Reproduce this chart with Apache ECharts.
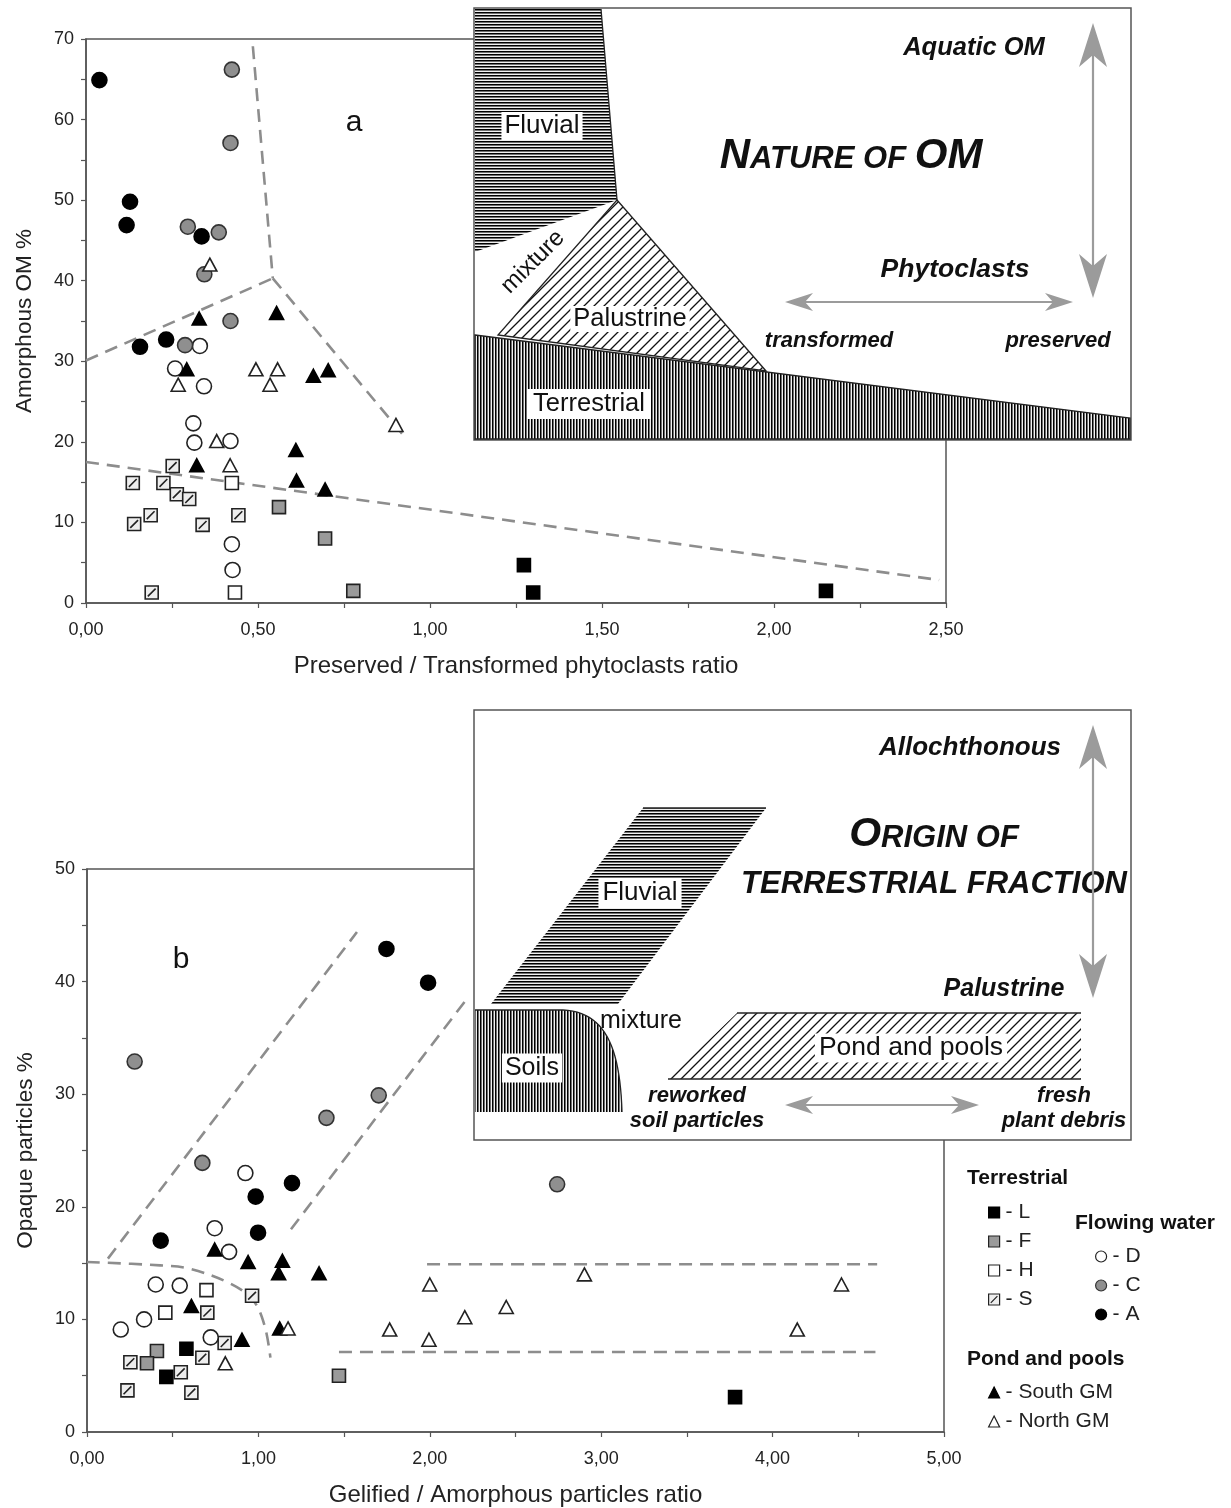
<!DOCTYPE html>
<html><head><meta charset="utf-8">
<script src="https://cdn.jsdelivr.net/npm/echarts/dist/echarts.min.js"></script>
<style>html,body{margin:0;padding:0;background:#fff}#c{width:1231px;height:1508px}</style>
</head><body><div id="c"></div>
<script>
const FONT = '"Liberation Sans", Arial, sans-serif';

// ---------- Panel a data (x: Preserved/Transformed ratio, y: Amorphous OM %) ----------
const aXRange = [0, 2.5], aYRange = [0, 70];
const aL = [[1.273,4.7],[1.30,1.3],[2.151,1.5]];
const aF = [[0.561,11.9],[0.695,8.0],[0.777,1.5]];
const aH = [[0.424,14.9],[0.433,1.3]];
const aS = [[0.252,17.0],[0.136,14.9],[0.225,14.9],[0.264,13.5],[0.300,12.9],[0.188,10.9],[0.140,9.8],[0.339,9.7],[0.443,10.9],[0.191,1.3]];
const aD = [[0.331,31.9],[0.259,29.1],[0.343,26.9],[0.312,22.3],[0.315,19.9],[0.420,20.1],[0.424,7.3],[0.426,4.1]];
const aC = [[0.424,66.2],[0.420,57.1],[0.296,46.7],[0.386,46.0],[0.344,40.8],[0.420,35.0],[0.288,32.0]];
const aA = [[0.039,64.9],[0.128,49.8],[0.118,46.9],[0.336,45.5],[0.233,32.7],[0.157,31.8]];
const aSouth = [[0.329,35.3],[0.554,36.0],[0.293,29.0],[0.661,28.2],[0.704,28.9],[0.610,19.0],[0.322,17.1],[0.612,15.2],[0.695,14.1]];
const aNorth = [[0.360,42.0],[0.268,27.1],[0.494,29.0],[0.557,29.0],[0.535,27.1],[0.901,22.1],[0.380,20.1],[0.419,17.1]];
// boundary lines (data coords)
const aBound1 = [[0.485,69.1],[0.543,40.3]];
const aBound2 = [[0,30.1],[0.543,40.3]];
const aBound3 = [[0.543,40.3],[0.927,20.6]];
const aBound4 = [[0,17.5],[2.48,2.85]];

// ---------- Panel b data (x: Gelified/Amorphous ratio, y: Opaque particles %) ----------
const bXRange = [0, 5], bYRange = [0, 50];
const bL = [[0.580,7.4],[0.463,4.9],[3.781,3.1]];
const bF = [[0.408,7.2],[0.350,6.1],[1.470,5.0]];
const bH = [[0.697,12.6],[0.457,10.6]];
const bS = [[0.963,12.1],[0.702,10.6],[0.803,7.9],[0.673,6.6],[0.253,6.2],[0.547,5.3],[0.236,3.7],[0.609,3.5]];
const bD = [[0.924,23.0],[0.745,18.1],[0.829,16.0],[0.401,13.1],[0.541,13.0],[0.333,10.0],[0.197,9.1],[0.722,8.4]];
const bC = [[0.278,32.9],[1.397,27.9],[1.702,29.9],[0.673,23.9],[2.743,22.0]];
const bA = [[1.747,42.9],[1.990,39.9],[1.196,22.1],[0.984,20.9],[0.998,17.7],[0.430,17.0]];
const bSouth = [[0.745,16.2],[0.940,15.1],[1.140,15.2],[1.118,14.1],[1.354,14.1],[0.609,11.2],[1.124,9.2],[0.904,8.2]];
const bNorth = [[2.000,13.1],[2.204,10.2],[1.766,9.1],[1.173,9.2],[1.995,8.2],[0.807,6.1],[2.902,14.0],[2.446,11.1],[4.402,13.1],[4.144,9.1]];
const bBound1 = [[0.122,15.4],[1.575,44.4]];
const bBound2 = [[1.19,18.0],[2.213,38.4]];
const bBound3 = [[0,15.1],[0.426,14.8],[0.600,14.5],[0.833,13.2],[0.969,11.7],[1.037,9.4],[1.070,6.6]];
const bBound4 = [[1.984,14.9],[4.61,14.9]];
const bBound5 = [[1.47,7.1],[4.60,7.1]];

const groupNames = ['L','F','H','S','D','C','A','South GM','North GM'];
const legendTerrestrial = ['L','F','H','S'];
const legendFlowing = ['D','C','A'];
const legendPond = ['South GM','North GM'];

// ---------- styles ----------
const markStyle = {
  'L': {symbol:'rect', size:13, color:'#000', border:'#000'},
  'F': {symbol:'rect', size:13, color:'#9a9a9a', border:'#222'},
  'H': {symbol:'rect', size:13, color:'#fff', border:'#222'},
  'S': {symbol:'path://M0,0H10V10H0Z M2,8L8,2', size:13, color:'#eeeeee', border:'#222'},
  'D': {symbol:'circle', size:15, color:'#fff', border:'#222'},
  'C': {symbol:'circle', size:15, color:'#8f8f8f', border:'#333'},
  'A': {symbol:'circle', size:15, color:'#000', border:'#000'},
  'South GM': {symbol:'triangle', size:[14,13], color:'#000', border:'#000'},
  'North GM': {symbol:'triangle', size:[14,13], color:'#fff', border:'#222'}
};

function scatter(name, data, idx) {
  const s = markStyle[name];
  return {
    type:'scatter', name, data, xAxisIndex:idx, yAxisIndex:idx,
    symbol:s.symbol, symbolSize:s.size, z:5,
    itemStyle:{color:s.color, borderColor:s.border, borderWidth:1.6, opacity:1},
    emphasis:{disabled:true}
  };
}
function bound(data, idx, smooth) {
  return {
    type:'line', data, xAxisIndex:idx, yAxisIndex:idx, showSymbol:false, symbol:'none',
    smooth: smooth || false, silent:true, z:3,
    lineStyle:{color:'#8d8d8d', width:2.6, type:[13,8]}
  };
}

const dataA = {'L':aL,'F':aF,'H':aH,'S':aS,'D':aD,'C':aC,'A':aA,'South GM':aSouth,'North GM':aNorth};
const dataB = {'L':bL,'F':bF,'H':bH,'S':bS,'D':bD,'C':bC,'A':bA,'South GM':bSouth,'North GM':bNorth};

const series = [];
series.push(bound(aBound1,0), bound(aBound2,0), bound(aBound3,0), bound(aBound4,0));
series.push(bound(bBound1,1), bound(bBound2,1), bound(bBound3,1,0.35), bound(bBound4,1), bound(bBound5,1));
groupNames.forEach(n => series.push(scatter(n, dataA[n], 0)));
groupNames.forEach(n => series.push(scatter(n, dataB[n], 1)));

function fmtX(step){ return v => (Math.abs(v/step - Math.round(v/step)) < 1e-6) ? v.toFixed(2).replace('.',',') : ''; }
function fmtY(step){ return v => (v % step === 0) ? String(v) : ''; }

function xAxis(idx, range, interval, labStep, name) {
  return {
    type:'value', gridIndex:idx, min:range[0], max:range[1], interval,
    name, nameLocation:'middle', nameGap:51,
    nameTextStyle:{fontFamily:FONT, fontSize:24, color:'#222'},
    axisLine:{show:true, lineStyle:{color:'#555', width:1.5}},
    axisTick:{show:true, length:5, lineStyle:{color:'#555', width:1.2}},
    axisLabel:{show:true, margin:18, fontFamily:FONT, fontSize:18, color:'#222', formatter:fmtX(labStep), hideOverlap:false},
    splitLine:{show:false}
  };
}
function yAxis(idx, range, name) {
  return {
    type:'value', gridIndex:idx, min:range[0], max:range[1], interval:5,
    name, nameLocation:'middle', nameGap:50, nameRotate:90,
    nameTextStyle:{fontFamily:FONT, fontSize:22.5, color:'#222'},
    axisLine:{show:true, lineStyle:{color:'#555', width:1.5}},
    axisTick:{show:true, length:5, lineStyle:{color:'#555', width:1.2}},
    axisLabel:{show:true, margin:12, fontFamily:FONT, fontSize:18, color:'#222', formatter:fmtY(10)},
    splitLine:{show:false}
  };
}

// ---------- hatch patterns ----------
function mkPat(kind) {
  const c = document.createElement('canvas');
  const ctx = c.getContext('2d');
  if (kind === 'h') {
    c.width = 6; c.height = 3;
    ctx.fillStyle = '#f0f0f0'; ctx.fillRect(0,0,6,3);
    ctx.fillStyle = '#000'; ctx.fillRect(0,0,6,1);
    ctx.fillStyle = '#6f6f6f'; ctx.fillRect(0,1,6,1);
  } else if (kind === 'v') {
    c.width = 3; c.height = 6;
    ctx.fillStyle = '#f0f0f0'; ctx.fillRect(0,0,3,6);
    ctx.fillStyle = '#000'; ctx.fillRect(0,0,1,6);
    ctx.fillStyle = '#6f6f6f'; ctx.fillRect(1,0,1,6);
  } else {
    const s = 10;
    c.width = s; c.height = s;
    ctx.fillStyle = '#fff'; ctx.fillRect(0,0,s,s);
    ctx.strokeStyle = '#111'; ctx.lineWidth = 1.3;
    ctx.beginPath();
    ctx.moveTo(0,s); ctx.lineTo(s,0);
    ctx.moveTo(-2,2); ctx.lineTo(2,-2);
    ctx.moveTo(s-2,s+2); ctx.lineTo(s+2,s-2);
    ctx.stroke();
  }
  return {image:c, repeat:'repeat'};
}
const patH = mkPat('h'), patV = mkPat('v'), patD = mkPat('d');

let Z = 50;
const G = [];
function add(el){ el.z = Z++; el.silent = true; G.push(el); }
function txt(x, y, text, font, opts) {
  opts = opts || {};
  const st = {text, fill:'#111', font, textAlign:opts.align||'center', textVerticalAlign:'middle',
              align:opts.align||'center', verticalAlign:'middle'};
  if (opts.bg) { st.backgroundColor = '#fff'; st.padding = opts.pad || [1,4]; }
  if (opts.rich) st.rich = opts.rich;
  const el = {type:'text', x, y, style:st};
  if (opts.rotation) el.rotation = opts.rotation;
  add(el);
}
function poly(points, fill, stroke, lw) {
  add({type:'polygon', shape:{points}, style:{fill:fill||'none', stroke:stroke||'none', lineWidth:lw||1}});
}
function pline(points, stroke, lw) {
  add({type:'polyline', shape:{points}, style:{fill:'none', stroke, lineWidth:lw}});
}
function line(x1,y1,x2,y2,stroke,lw){ add({type:'line', shape:{x1,y1,x2,y2}, style:{stroke, lineWidth:lw}}); }
function bez(p0,p1,p2,p3,n){
  const out=[];
  for(let i=0;i<=n;i++){const t=i/n,u=1-t;
    out.push([u*u*u*p0[0]+3*u*u*t*p1[0]+3*u*t*t*p2[0]+t*t*t*p3[0],
              u*u*u*p0[1]+3*u*u*t*p1[1]+3*u*t*t*p2[1]+t*t*t*p3[1]]);}
  return out;
}
const AC = '#9b9b9b';
function vArrow(x, yTop, yBot) {
  line(x, yTop+25, x, yBot-25, AC, 2.2);
  poly([[x,yTop],[x+14,yTop+44],[x,yTop+32],[x-14,yTop+44]], AC);
  poly([[x,yBot],[x+14,yBot-44],[x,yBot-32],[x-14,yBot-44]], AC);
}
function hArrow(y, xL, xR) {
  line(xL+18, y, xR-18, y, AC, 2.2);
  poly([[xL,y],[xL+28,y-9],[xL+20,y],[xL+28,y+9]], AC);
  poly([[xR,y],[xR-28,y-9],[xR-20,y],[xR-28,y+9]], AC);
}
const BI = (px) => 'italic bold ' + px + 'px ' + FONT;
const RG = (px) => px + 'px ' + FONT;

// ---------- Inset a : Nature of OM ----------
add({type:'rect', shape:{x:474, y:8, width:657, height:432}, style:{fill:'#fff', stroke:'#555', lineWidth:1.5}});
poly([[475,9],[601,9],[617,200],[475,252]], patH);
line(601,9,617,200,'#222',1.3);
poly([[617,200],[766,371],[498,335]], patD, '#222', 1.3);
poly([[475,335],[1130,418],[1130,439],[475,439]], patV, '#222', 1.3);
txt(542,126,'Fluvial',RG(26),{bg:true,pad:[1,3]});
txt(533,262,'mixture',RG(24),{rotation:Math.PI/4});
txt(630,319,'Palustrine',RG(25.5),{bg:true,pad:[0,3]});
txt(589,404,'Terrestrial',RG(25.5),{bg:true,pad:[2,6]});
txt(851,156,'{b|N}{s|ATURE OF }{b|OM}',BI(42),{rich:{
  b:{font:BI(42), fill:'#111', verticalAlign:'bottom'},
  s:{font:BI(31), fill:'#111', verticalAlign:'bottom', padding:[0,0,2,0]}}});
txt(974,48,'Aquatic OM',BI(25.5));
txt(955,270,'Phytoclasts',BI(26.5));
txt(829,341,'transformed',BI(22));
txt(1058,341,'preserved',BI(22));
vArrow(1093,23,298);
hArrow(302,785,1073);

// ---------- Inset b : Origin of terrestrial fraction ----------
add({type:'rect', shape:{x:474, y:710, width:657, height:430}, style:{fill:'#fff', stroke:'#555', lineWidth:1.5}});
poly([[643,808],[766,808],[618,1004],[491,1004]], patH);
line(643,808,766,808,'#222',1.3);
const soilCurve = bez([563,1010],[604,1012],[620,1045],[622,1112],24);
poly([[475,1010]].concat(soilCurve).concat([[475,1112]]), patV);
pline([[475,1010]].concat(soilCurve), '#222', 1.3);
poly([[737,1013],[1081,1013],[1081,1079],[668,1079]], patD);
line(737,1013,1081,1013,'#222',1.4);
line(668,1079,1081,1079,'#222',1.4);
txt(640,893,'Fluvial',RG(26),{bg:true,pad:[2,4]});
txt(532,1068,'Soils',RG(25),{bg:true,pad:[2,3]});
txt(641,1021,'mixture',RG(25));
txt(911,1048,'Pond and pools',RG(26.5),{bg:true,pad:[1,4]});
txt(970,748,'Allochthonous',BI(26));
txt(934,835,'{b|O}{s|RIGIN OF}',BI(41),{rich:{
  b:{font:BI(41), fill:'#111', verticalAlign:'bottom'},
  s:{font:BI(31), fill:'#111', verticalAlign:'bottom', padding:[0,0,2,0]}}});
txt(934,884,'TERRESTRIAL FRACTION',BI(31));
txt(1004,989,'Palustrine',BI(25));
txt(697,1096,'reworked',BI(22));
txt(697,1121,'soil particles',BI(22));
txt(1064,1096,'fresh',BI(22));
txt(1064,1121,'plant debris',BI(22));
vArrow(1093,725,998);
hArrow(1105,785,979);

// panel letters
txt(354,123,'a',RG(30));
txt(181,960,'b',RG(30));

// legend headings
txt(967,1178,'Terrestrial','bold 21px '+FONT,{align:'left'});
txt(1075,1223,'Flowing water','bold 21px '+FONT,{align:'left'});
txt(967,1359,'Pond and pools','bold 21px '+FONT,{align:'left'});

function legend(data, left, top) {
  return {
    data, orient:'vertical', left, top, padding:0, itemGap:8, itemWidth:11, itemHeight:11,
    selectedMode:false, formatter:'- {name}',
    textStyle:{fontFamily:FONT, fontSize:21, color:'#222', padding:[0,0,0,1]},
    itemStyle:{borderWidth:1.2}
  };
}

const option = {
  animation:false,
  backgroundColor:'#fff',
  textStyle:{fontFamily:FONT},
  grid:[
    {left:86, top:39, right:1231-946, bottom:1508-603, show:true, borderColor:'#555', borderWidth:1.5, containLabel:false, outerBoundsMode:'none'},
    {left:87, top:869, right:1231-944, bottom:1508-1432, show:true, borderColor:'#555', borderWidth:1.5, containLabel:false, outerBoundsMode:'none'}
  ],
  xAxis:[
    xAxis(0, aXRange, 0.25, 0.5, 'Preserved / Transformed phytoclasts ratio'),
    xAxis(1, bXRange, 0.5, 1, 'Gelified / Amorphous particles ratio')
  ],
  yAxis:[
    yAxis(0, aYRange, 'Amorphous OM %'),
    yAxis(1, bYRange, 'Opaque particles %')
  ],
  legend:[
    legend(legendTerrestrial, 988, 1202),
    legend(legendFlowing, 1095, 1246),
    legend(legendPond, 988, 1382)
  ],
  series,
  graphic:{elements:G}
};

const chart = echarts.init(document.getElementById('c'), null, {renderer:'canvas'});
chart.setOption(option);
</script>
</body></html>
